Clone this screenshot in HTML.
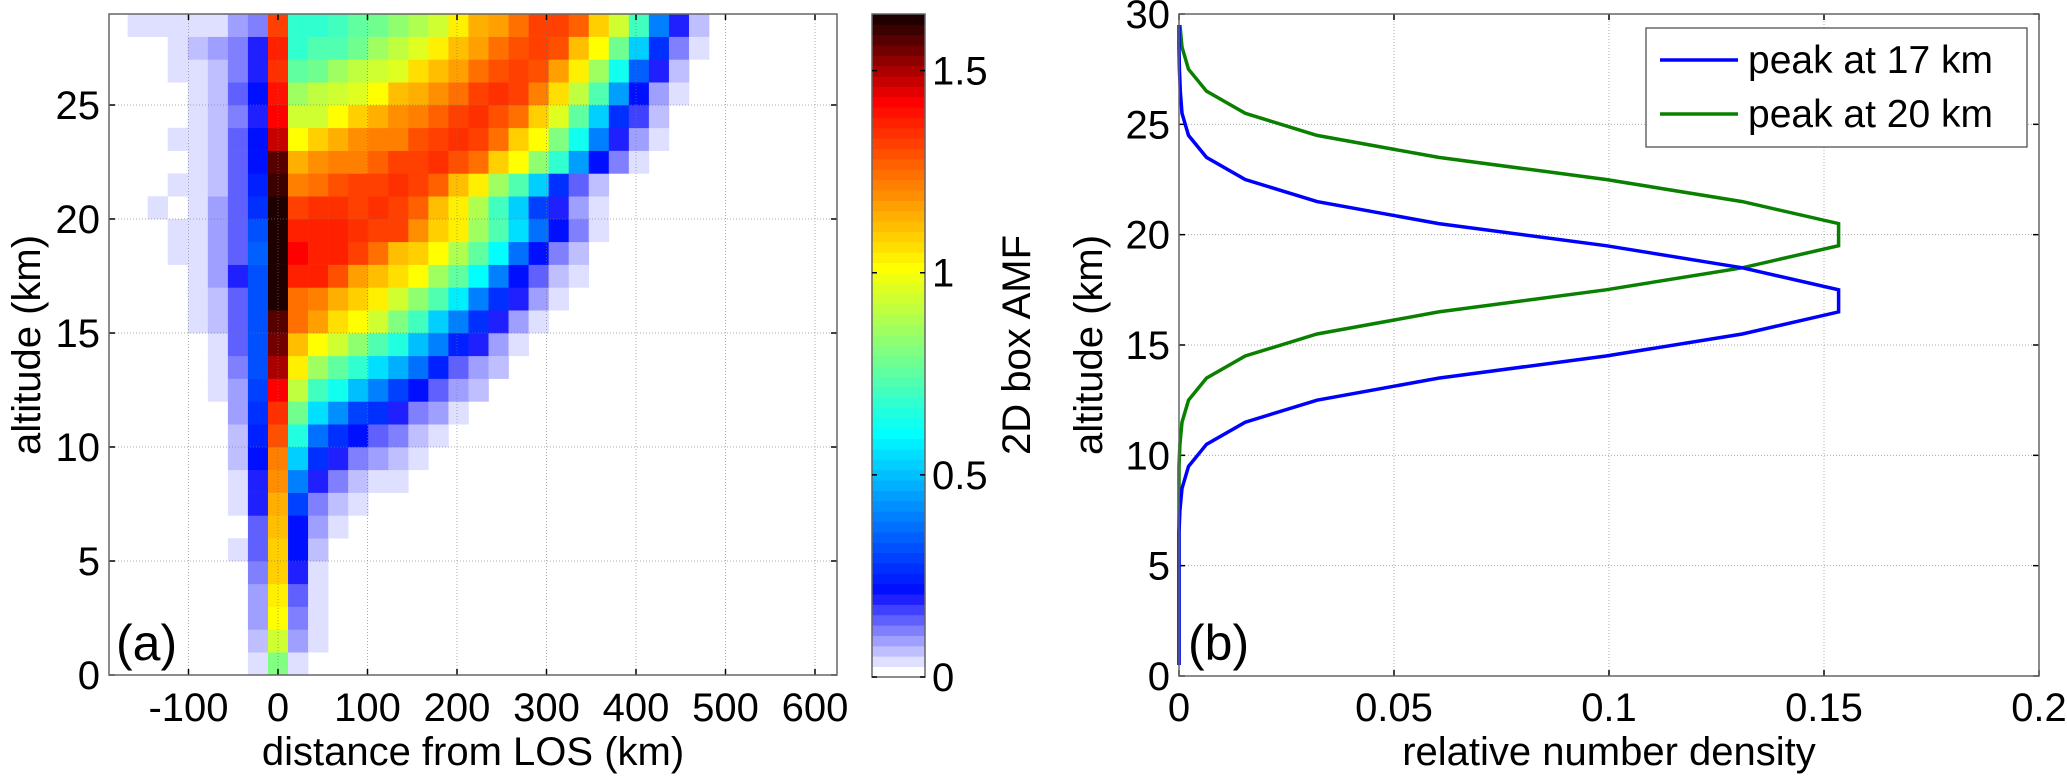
<!DOCTYPE html>
<html><head><meta charset="utf-8"><style>
html,body{margin:0;padding:0;background:#fff;}
svg text{font-family:"Liberation Sans",Arial,sans-serif;fill:#000;}
</style></head><body>
<svg id="fig" width="2067" height="778" viewBox="0 0 2067 778" xmlns="http://www.w3.org/2000/svg">
<g id="left"></g>
<g id="cbar"></g>
<g id="right"></g>
</svg>
<script>
// ---------- Panel (a) data ----------
const colWidthKm = 22.4;
const firstColIndex = -8;
const xTicksA = [-100, 0, 100, 200, 300, 400, 500, 600];
const yTicksA = [0, 5, 10, 15, 20, 25];
const cbarTicks = [0, 0.5, 1, 1.5];
const amfRows = [
[0,0,0,0,0,0,0,.03,.8,.03],
[0,0,0,0,0,0,0,.06,.93,.09,.03],
[0,0,0,0,0,0,0,.09,1.0,.12,.03],
[0,0,0,0,0,0,0,.09,1.05,.15,.03],
[0,0,0,0,0,0,0,.12,1.08,.18,.03],
[0,0,0,0,0,0,.03,.15,1.1,.23,.06],
[0,0,0,0,0,0,0,.15,1.12,.23,.09,.03],
[0,0,0,0,0,0,.03,.18,1.15,.3,.12,.06,.03],
[0,0,0,0,0,0,.03,.2,1.2,.4,.18,.12,.06,.03,.03],
[0,0,0,0,0,0,.06,.23,1.22,.52,.28,.2,.12,.09,.06,.03],
[0,0,0,0,0,0,.06,.25,1.3,.66,.37,.28,.23,.15,.12,.06,.03],
[0,0,0,0,0,0,.09,.28,1.35,.78,.55,.42,.3,.26,.2,.12,.09,.03],
[0,0,0,0,0,.03,.09,.3,1.42,.9,.7,.62,.5,.4,.3,.23,.15,.09,.06],
[0,0,0,0,0,.03,.12,.32,1.5,1.03,.87,.75,.68,.56,.47,.36,.25,.15,.09,.06],
[0,0,0,0,0,.03,.15,.32,1.55,1.12,1.02,.93,.83,.74,.65,.5,.4,.25,.18,.09,.03],
[0,0,0,0,.03,.06,.15,.32,1.58,1.25,1.17,1.07,1.0,.93,.8,.7,.52,.4,.28,.18,.09,.03],
[0,0,0,0,.03,.06,.15,.32,1.62,1.25,1.22,1.14,1.1,1.05,.93,.83,.72,.57,.4,.28,.18,.09,.03],
[0,0,0,0,.03,.09,.18,.32,1.64,1.37,1.36,1.3,1.16,1.12,1.07,1.0,.85,.75,.6,.4,.23,.15,.06,.03],
[0,0,0,.03,.03,.09,.15,.35,1.63,1.42,1.36,1.37,1.32,1.25,1.12,1.1,1.02,.88,.75,.6,.38,.23,.12,.06],
[0,0,0,.03,.03,.09,.15,.32,1.63,1.37,1.37,1.37,1.35,1.32,1.32,1.2,1.1,1.03,.86,.72,.55,.38,.23,.12,.03],
[0,0,.03,0,.03,.09,.15,.28,1.62,1.32,1.35,1.34,1.32,1.34,1.32,1.27,1.12,1.05,.88,.7,.52,.3,.2,.09,.03],
[0,0,0,.03,.03,.06,.15,.25,1.61,1.22,1.25,1.3,1.33,1.33,1.35,1.33,1.28,1.12,1.05,.87,.72,.52,.28,.15,.06],
[0,0,0,0,.03,.06,.15,.23,1.57,1.13,1.2,1.22,1.22,1.27,1.32,1.33,1.35,1.3,1.25,1.1,1.0,.82,.68,.45,.22,.12,.03],
[0,0,0,.03,.03,.06,.15,.23,1.47,1.0,1.1,1.15,1.2,1.22,1.22,1.3,1.32,1.34,1.33,1.25,1.1,1.0,.8,.62,.4,.2,.09,.03],
[0,0,0,0,.03,.06,.12,.2,1.43,.93,.93,1.02,1.1,1.14,1.18,1.22,1.27,1.33,1.34,1.3,1.23,1.1,.95,.75,.52,.28,.16,.06],
[0,0,0,0,.03,.06,.15,.23,1.4,.85,.9,.93,.95,1.0,1.12,1.15,1.2,1.25,1.33,1.35,1.33,1.22,1.06,.9,.72,.45,.23,.09,.03],
[0,0,0,.03,.03,.06,.12,.18,1.35,.76,.78,.85,.9,.93,.95,1.06,1.12,1.17,1.25,1.3,1.33,1.3,1.17,1.05,.85,.62,.35,.18,.06],
[0,0,0,.03,.06,.09,.12,.2,1.37,.68,.72,.74,.78,.85,.9,.95,1.04,1.12,1.17,1.23,1.3,1.32,1.3,1.12,1.0,.78,.52,.28,.12,.03],
[0,.03,.03,.03,.03,.03,.09,.12,1.32,.68,.68,.7,.75,.78,.83,.88,.93,1.04,1.14,1.17,1.25,1.32,1.33,1.27,1.1,.93,.7,.4,.2,.06]
];
// ---------- Panel (b) data ----------
const altitudes = [29.5,28.5,27.5,26.5,25.5,24.5,23.5,22.5,21.5,20.5,19.5,18.5,17.5,16.5,15.5,14.5,13.5,12.5,11.5,10.5,9.5,8.5,7.5,6.5,5.5,4.5,3.5,2.5,1.5,0.5];
const peak17 = [0,0,0.0001,0.0003,0.0007,0.0022,0.0064,0.0154,0.0321,0.0604,0.0993,0.131,0.1534,0.1534,0.131,0.0993,0.0604,0.0321,0.0154,0.0064,0.0022,0.0007,0.0002,0,0,0,0,0,0,0];
const peak20 = [0.0002,0.0007,0.0022,0.0064,0.0154,0.0321,0.0604,0.0993,0.131,0.1534,0.1534,0.131,0.0993,0.0604,0.0321,0.0154,0.0064,0.0022,0.0007,0.0002,0,0,0,0,0,0,0,0,0,0];
const xTicksB = [0, 0.05, 0.1, 0.15, 0.2];
const xTickLabelsB = ["0","0.05","0.1","0.15","0.2"];
const yTicksB = [0, 5, 10, 15, 20, 25, 30];
const legendLabels = ["peak at 17 km", "peak at 20 km"];

const NS = "http://www.w3.org/2000/svg";
function mk(tag, attrs, parent){const e=document.createElementNS(NS,tag);for(const k in attrs)e.setAttribute(k,attrs[k]);parent.appendChild(e);return e;}

const VMAX = 1.64;
function cmap(v){
  let k = Math.floor(v/VMAX*64); if(k<0)k=0; if(k>63)k=63;
  let r,g,b;
  if(k<8){const f=Math.round(255*(8-k)/8); r=f; g=f; b=255; if(k===0){r=g=255;}}
  else if(k<24){r=0; g=Math.round((k-7)/16*255); b=255;}
  else if(k<40){const t=(k-23)/16; r=Math.round(t*255); g=255; b=Math.round((1-t)*255);}
  else if(k<56){const t=(k-39)/16; r=255; g=Math.round((1-t)*255); b=0;}
  else {const t=(k-55)/8; r=Math.round((1-t*0.88)*255); g=0; b=0;}
  return `rgb(${r},${g},${b})`;
}
const TF = 40;

// ---------- Panel (a) ----------
const L = document.getElementById('left');
const AX = {x0:109, x1:837, y0:675, y1:14};
const xA = km => 278 + km*0.895;
const yA = alt => 675 - alt*22.8;
const clipA = mk('clipPath',{id:'clipA'},L);
mk('rect',{x:AX.x0,y:AX.y1,width:AX.x1-AX.x0,height:AX.y0-AX.y1},clipA);
const cells = mk('g',{'clip-path':'url(#clipA)'},L);


amfRows.forEach((row, r) => {
  row.forEach((v, c) => {
    if(v<=0) return;
    const ctr = (c+firstColIndex)*colWidthKm;
    const xl = xA(ctr-colWidthKm/2), xr = xA(ctr+colWidthKm/2);
    const rect = mk('rect',{x:xl,y:yA(r+1),width:xr-xl+0.3,height:yA(r)-yA(r+1)+0.3,fill:cmap(v)},cells);
    
    
  });
});
xTicksA.forEach(t=>{
  const g=mk('line',{x1:xA(t),x2:xA(t),y1:AX.y0,y2:AX.y1,stroke:'#777','stroke-width':1,'stroke-dasharray':'1,2',opacity:0.6},L);
   
  mk('line',{x1:xA(t),x2:xA(t),y1:AX.y0,y2:AX.y0-6,stroke:'#000','stroke-width':1.5},L);
  mk('line',{x1:xA(t),x2:xA(t),y1:AX.y1,y2:AX.y1+6,stroke:'#000','stroke-width':1.5},L);
  const tx=mk('text',{x:xA(t),y:721,'font-size':TF,'text-anchor':'middle'},L); tx.textContent=t;
   
});
yTicksA.forEach(t=>{
  const g=mk('line',{x1:AX.x0,x2:AX.x1,y1:yA(t),y2:yA(t),stroke:'#777','stroke-width':1,'stroke-dasharray':'1,2',opacity:0.6},L);
   
  mk('line',{x1:AX.x0,x2:AX.x0+6,y1:yA(t),y2:yA(t),stroke:'#000','stroke-width':1.5},L);
  mk('line',{x1:AX.x1,x2:AX.x1-6,y1:yA(t),y2:yA(t),stroke:'#000','stroke-width':1.5},L);
  const tx=mk('text',{x:100,y:yA(t)+14,'font-size':TF,'text-anchor':'end'},L); tx.textContent=t;
   
});
mk('rect',{x:AX.x0,y:AX.y1,width:AX.x1-AX.x0,height:AX.y0-AX.y1,fill:'none',stroke:'#666','stroke-width':1.5},L);
let t;
t=mk('text',{x:473,y:765,'font-size':40,'text-anchor':'middle'},L); t.textContent='distance from LOS (km)';
 
t=mk('text',{x:0,y:0,'font-size':40,'text-anchor':'middle',transform:'translate(40,345) rotate(-90)'},L); t.textContent='altitude (km)';
 
t=mk('text',{x:116,y:660,'font-size':50},L); t.textContent='(a)';
 

// ---------- Colorbar ----------
const C = document.getElementById('cbar');
const CB = {x0:872, x1:925, y0:677, y1:14};
for(let k=0;k<64;k++){
  const v0=k*VMAX/64, v1=(k+1)*VMAX/64;
  const y0=CB.y0-(v0/VMAX)*(CB.y0-CB.y1), y1=CB.y0-(v1/VMAX)*(CB.y0-CB.y1);
  const r=mk('rect',{x:CB.x0,y:y1,width:CB.x1-CB.x0,height:y0-y1+0.4,fill:cmap((v0+v1)/2)},C);
   
}
mk('rect',{x:CB.x0,y:CB.y1,width:CB.x1-CB.x0,height:CB.y0-CB.y1,fill:'none',stroke:'#666','stroke-width':1.5},C);
cbarTicks.forEach(v=>{
  const y=CB.y0-(v/VMAX)*(CB.y0-CB.y1);
  mk('line',{x1:CB.x0,x2:CB.x0+5,y1:y,y2:y,stroke:'#000','stroke-width':1.5},C);
  mk('line',{x1:CB.x1,x2:CB.x1-5,y1:y,y2:y,stroke:'#000','stroke-width':1.5},C);
  const tx=mk('text',{x:932,y:y+14,'font-size':TF},C); tx.textContent=v;
   
});
t=mk('text',{x:0,y:0,'font-size':40,'text-anchor':'middle',transform:'translate(1030,345) rotate(-90)'},C); t.textContent='2D box AMF';
 

// ---------- Panel (b) ----------
const R = document.getElementById('right');
const BX = {x0:1179, x1:2039, y0:676, y1:14};
const xB = v => BX.x0 + v/0.2*(BX.x1-BX.x0);
const yB = a => BX.y0 - a/30*(BX.y0-BX.y1);
xTicksB.forEach((v,i)=>{
  const g=mk('line',{x1:xB(v),x2:xB(v),y1:BX.y0,y2:BX.y1,stroke:'#777','stroke-width':1,'stroke-dasharray':'1,2',opacity:0.6},R);
   
  mk('line',{x1:xB(v),x2:xB(v),y1:BX.y0,y2:BX.y0-6,stroke:'#000','stroke-width':1.5},R);
  mk('line',{x1:xB(v),x2:xB(v),y1:BX.y1,y2:BX.y1+6,stroke:'#000','stroke-width':1.5},R);
  const tx=mk('text',{x:xB(v),y:721,'font-size':TF,'text-anchor':'middle'},R); tx.textContent=xTickLabelsB[i];
   
});
yTicksB.forEach(v=>{
  const g=mk('line',{x1:BX.x0,x2:BX.x1,y1:yB(v),y2:yB(v),stroke:'#777','stroke-width':1,'stroke-dasharray':'1,2',opacity:0.6},R);
   
  mk('line',{x1:BX.x0,x2:BX.x0+6,y1:yB(v),y2:yB(v),stroke:'#000','stroke-width':1.5},R);
  mk('line',{x1:BX.x1,x2:BX.x1-6,y1:yB(v),y2:yB(v),stroke:'#000','stroke-width':1.5},R);
  const tx=mk('text',{x:1170,y:yB(v)+14,'font-size':TF,'text-anchor':'end'},R); tx.textContent=v;
   
});
function series(vals,color,name){
  const pts=vals.map((v,i)=>xB(v).toFixed(1)+','+yB(altitudes[i]).toFixed(1)).join(' ');
  const p=mk('polyline',{points:pts,fill:'none',stroke:color,'stroke-width':3.5,'stroke-linejoin':'miter'},R);
   
}
series(peak20,'#0a8000','line-peak-20km');
series(peak17,'#0000ff','line-peak-17km');
mk('rect',{x:BX.x0,y:BX.y1,width:BX.x1-BX.x0,height:BX.y0-BX.y1,fill:'none',stroke:'#666','stroke-width':1.5},R);
const lg=mk('g',{},R);
 
mk('rect',{x:1646,y:28,width:381,height:119,fill:'#fff',stroke:'#444','stroke-width':1.2},lg);
const lcol=['#0000ff','#0a8000'];
legendLabels.forEach((s,i)=>{
  const y=60+i*54;
  const ln=mk('line',{x1:1660,x2:1738,y1:y,y2:y,stroke:lcol[i],'stroke-width':3.5},lg);
   
  const tx=mk('text',{x:1748,y:y+13,'font-size':39},lg); tx.textContent=s;
   
});
t=mk('text',{x:1609,y:765,'font-size':40,'text-anchor':'middle'},R); t.textContent='relative number density';
 
t=mk('text',{x:0,y:0,'font-size':40,'text-anchor':'middle',transform:'translate(1102,345) rotate(-90)'},R); t.textContent='altitude (km)';
 
t=mk('text',{x:1188,y:660,'font-size':50},R); t.textContent='(b)';
 
</script>
</body></html>
